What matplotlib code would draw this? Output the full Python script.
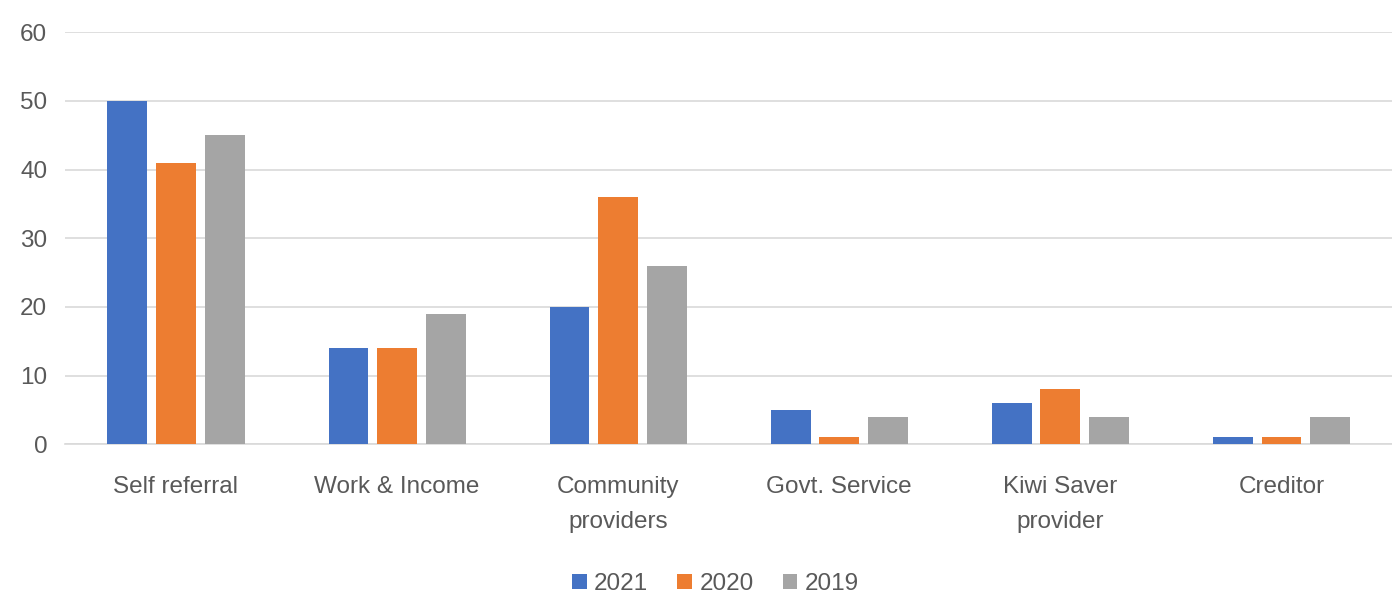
import numpy as np
import matplotlib.pyplot as plt

# referral sources by year
categories = ['Self referral', 'Work & Income', 'Community\nproviders',
              'Govt. Service', 'Kiwi Saver\nprovider', 'Creditor']
years = ['2021', '2020', '2019']
vals_2021 = [50, 14, 20, 5, 6, 1]
vals_2020 = [41, 14, 36, 1, 8, 1]
vals_2019 = [45, 19, 26, 4, 4, 4]
yticks = [0, 10, 20, 30, 40, 50, 60]

colors = ['#4472C4', '#ED7D31', '#A5A5A5']
txt_color = '#595959'
bar_width = 0.18
offsets = [-0.22, 0.0, 0.22]

plt.rcParams['font.family'] = ['Liberation Sans', 'DejaVu Sans']

fig = plt.figure(figsize=(13.92, 5.97), dpi=100)
ax = fig.add_axes([0.047, 0.256, 0.953, 0.69])

x = np.arange(len(categories))
for vals, off, c, lab in zip([vals_2021, vals_2020, vals_2019], offsets, colors, years):
    ax.bar(x + off, vals, bar_width, color=c, label=lab, zorder=3)

ax.set_xlim(-0.5, len(categories) - 0.5)
ax.set_ylim(0, 60)
ax.set_yticks(yticks)
ax.set_xticks(x)
ax.set_xticklabels(categories, fontsize=17.5, color=txt_color, linespacing=1.75)
ax.tick_params(axis='y', labelsize=17.5, labelcolor=txt_color, length=0, pad=13)
ax.tick_params(axis='x', length=0, pad=23)
ax.grid(axis='y', color='#D9D9D9', linewidth=1.2, zorder=0)
for s in ['top', 'right', 'left']:
    ax.spines[s].set_visible(False)
ax.spines['bottom'].set_color('#D9D9D9')
ax.spines['bottom'].set_linewidth(1.2)

ax.legend(loc='lower center', bbox_to_anchor=(0.49, -0.42), ncol=3, frameon=False,
          fontsize=17.5, labelcolor=txt_color, handlelength=0.6, handleheight=0.6,
          handletextpad=0.3, columnspacing=1.2)

fig.savefig('out.png', dpi=100)
